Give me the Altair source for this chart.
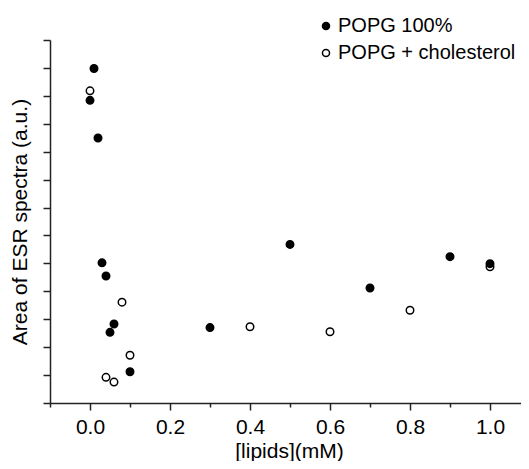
import altair as alt
import pandas as pd

series_names = ["POPG 100%", "POPG + cholesterol"]

x_filled = [0.0, 0.01, 0.02, 0.03, 0.04, 0.05, 0.06, 0.1, 0.3, 0.5, 0.7, 0.9, 1.0]
y_filled = [10.84, 11.98, 9.49, 5.02, 4.55, 2.53, 2.83, 1.12, 2.70, 5.68, 4.12, 5.24, 4.99]

x_open = [0.0, 0.04, 0.06, 0.08, 0.1, 0.4, 0.6, 0.8, 1.0]
y_open = [11.18, 0.92, 0.75, 3.61, 1.71, 2.73, 2.55, 3.32, 4.88]

x_ticks = [-0.1, 0.0, 0.1, 0.2, 0.3, 0.4, 0.5, 0.6, 0.7, 0.8, 0.9, 1.0]
y_ticks = list(range(0, 14))

rows = []
for x, y in zip(x_filled, y_filled):
    rows.append({"lipids": x, "area": y, "series": series_names[0]})
for x, y in zip(x_open, y_open):
    rows.append({"lipids": x, "area": y, "series": series_names[1]})
df = pd.DataFrame(rows)

FONT = "Liberation Sans"
AX = "#222222"
FS = 21

chart = alt.Chart(df).mark_point(
    shape="circle", size=56, stroke="black", strokeWidth=1.5, opacity=1
).encode(
    x=alt.X("lipids:Q",
            scale=alt.Scale(domain=[-0.1, 1.0775], nice=False, zero=False),
            axis=alt.Axis(
                title="[lipids](mM)", values=x_ticks,
                labelExpr="abs(round(datum.value*10)) % 2 == 0 ? format(datum.value, '.1f') : ''",
                tickSize={"condition": {"test": "abs(round(datum.value*10)) % 2 == 0", "value": 7}, "value": 4},
                labelFlush=False, labelOverlap=False,
                labelFontSize=FS, titleFontSize=FS, titleFontWeight="normal",
                labelColor="black", titleColor="black",
                domainColor=AX, tickColor=AX, domainWidth=1.5, tickWidth=1.5,
                labelPadding=6, titleBaseline="alphabetic", titleY=54,
                titleX=239, grid=False)),
    y=alt.Y("area:Q",
            scale=alt.Scale(domain=[0, 13], nice=False, zero=False),
            axis=alt.Axis(
                title="Area of ESR spectra (a.u.)", values=y_ticks, labels=False,
                tickSize=7, titleFontSize=FS, titleFontWeight="normal",
                titleColor="black", domainColor=AX, tickColor=AX,
                domainWidth=1.5, tickWidth=1.5, titlePadding=12, grid=False)),
    fill=alt.Fill("series:N",
                  scale=alt.Scale(domain=series_names, range=["black", "white"]),
                  legend=alt.Legend(
                      title=None, orient="none", legendX=266, legendY=-24,
                      symbolType="circle", symbolSize=50,
                      symbolStrokeColor="black", symbolStrokeWidth=1.5,
                      labelFontSize=20, labelColor="black", labelOffset=2,
                      labelLimit=0, rowPadding=7, padding=0)),
    order=alt.Order("series:N"),
).properties(
    width=471, height=363,
    padding={"left": 42, "top": 32, "right": 0, "bottom": 58},
    autosize=alt.AutoSizeParams(type="none"),
).configure(font=FONT).configure_view(stroke=None)

chart.save("out.html", embed_options={"renderer": "svg", "actions": False})
